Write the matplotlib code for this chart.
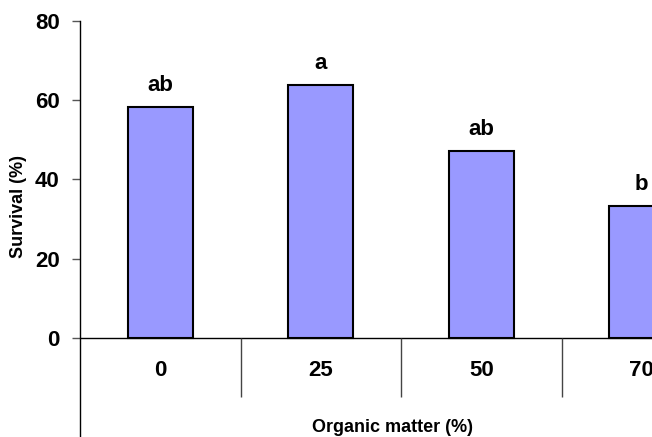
import numpy as np
import matplotlib.pyplot as plt

plt.rcParams['font.family'] = ['Liberation Sans', 'DejaVu Sans']

# 有机质含量与存活率
organic = ['0', '25', '50', '70']
survival = [58.3, 63.8, 47.2, 33.3]
letters = ['ab', 'a', 'ab', 'b']

fig = plt.figure(figsize=(6.52, 4.37), dpi=100)
# 坐标区右侧超出画布
ax = fig.add_axes([80 / 652, 0.0, 642 / 652, 416 / 437])

x = np.arange(len(organic))
ax.bar(x, survival, width=0.405, color='#9999FF', edgecolor='black', linewidth=1.5, zorder=3)

# 显著性字母
for xi, v, s in zip(x, survival, letters):
    ax.text(xi, v + 4.0, s, ha='center', va='baseline', fontsize=16, fontweight='bold')

ax.set_xlim(-0.5, 3.5)
ax.set_ylim(-25, 80)
ax.set_yticks([0, 20, 40, 60, 80])
ax.set_yticklabels(['0', '20', '40', '60', '80'], fontsize=16, fontweight='bold')
ax.tick_params(axis='y', length=6, width=1, color='#555555', pad=8.5)
ax.set_xticks([])

for side in ['top', 'right', 'bottom']:
    ax.spines[side].set_visible(False)
ax.spines['left'].set_linewidth(1)

# 横轴及分类分隔线
ax.axhline(0, color='black', linewidth=1, zorder=2)
ax.vlines([0.5, 1.5, 2.5], -14.9, 0, color='#444444', linewidth=1)
for xi, lab in zip(x, organic):
    ax.text(xi, -8.1, lab, ha='center', va='center', fontsize=16, fontweight='bold')

fig.text(393 / 652, 1 - 428 / 437, 'Organic matter (%)', ha='center', va='center',
         fontsize=13, fontweight='bold')
fig.text(19 / 652, 1 - 206 / 437, 'Survival (%)', ha='center', va='center',
         rotation=90, fontsize=13, fontweight='bold')

fig.savefig('out.png', dpi=100)
